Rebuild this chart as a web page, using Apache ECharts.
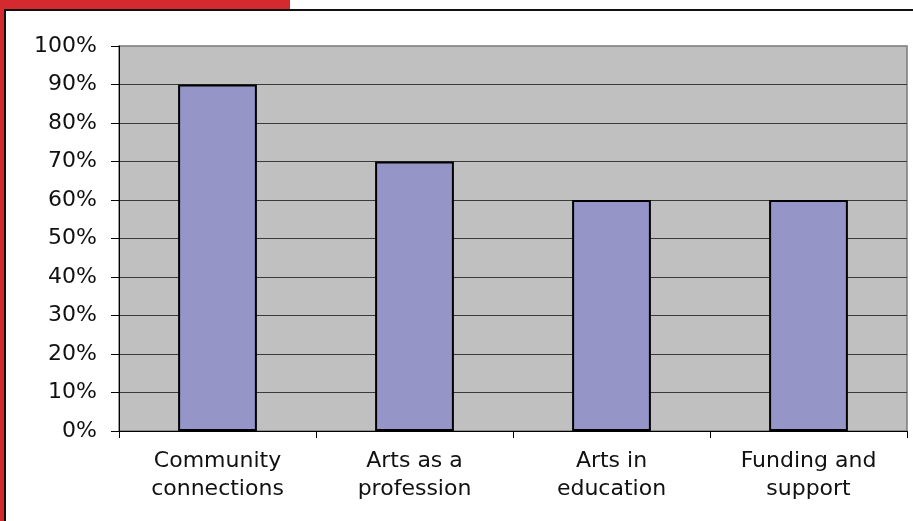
<!DOCTYPE html>
<html>
<head>
<meta charset="utf-8">
<script src="https://cdn.jsdelivr.net/npm/echarts@6/dist/echarts.min.js"></script>
<style>
  html, body { margin: 0; padding: 0; background: #ffffff; }
  #chart { width: 913px; height: 521px; }
</style>
</head>
<body>
<div id="chart"></div>
<script>
// Survey topics and share of respondents (percent)
const categories = ['Community\nconnections', 'Arts as a\nprofession', 'Arts in\neducation', 'Funding and\nsupport'];
const values = [90, 70, 60, 60];
const yTicks = [0, 10, 20, 30, 40, 50, 60, 70, 80, 90, 100];

// gridlines are dark; the top one blends into the lighter plot frame
const gridColors = yTicks.map((t, i) => (i === yTicks.length - 1 ? '#8a8a8a' : '#3a3a3a'));

const chart = echarts.init(document.getElementById('chart'), null, { renderer: 'canvas' });

chart.setOption({
  backgroundColor: '#ffffff',
  animation: false,
  textStyle: { fontFamily: 'DejaVu Sans, sans-serif' },
  graphic: [
    // red banner edge along the top-left and left side
    { type: 'rect', z: 0, shape: { x: 0, y: 0, width: 290, height: 10 }, style: { fill: '#d42a2f' } },
    { type: 'rect', z: 0, shape: { x: 0, y: 0, width: 5, height: 521 }, style: { fill: '#d42a2f' } },
    // dark frame around the chart panel
    { type: 'line', z: 1, shape: { x1: 4, y1: 10, x2: 913, y2: 10 }, style: { stroke: '#111111', lineWidth: 2 } },
    { type: 'line', z: 1, shape: { x1: 5, y1: 9, x2: 5, y2: 521 }, style: { stroke: '#111111', lineWidth: 2 } }
  ],
  grid: {
    left: 119, right: 6, top: 46, bottom: 90,
    show: true,
    backgroundColor: '#c0c0c0',
    borderColor: '#7a7a7a',
    borderWidth: 1.5
  },
  xAxis: {
    type: 'category',
    data: categories,
    boundaryGap: true,
    axisLine: { show: true, lineStyle: { color: '#000000', width: 1 } },
    axisTick: { show: true, length: 7, lineStyle: { color: '#000000' } },
    axisLabel: {
      color: '#111111',
      fontSize: 22,
      lineHeight: 28,
      margin: 16,
      interval: 0
    },
    splitLine: { show: false }
  },
  yAxis: {
    type: 'value',
    min: yTicks[0],
    max: yTicks[yTicks.length - 1],
    interval: 10,
    axisLine: { show: true, lineStyle: { color: '#000000', width: 1 } },
    axisTick: { show: true, length: 8, lineStyle: { color: '#000000' } },
    axisLabel: {
      color: '#111111',
      fontSize: 22,
      margin: 22,
      formatter: v => v + '%'
    },
    splitLine: { show: true, lineStyle: { color: gridColors, width: 1 } }
  },
  series: [{
    type: 'bar',
    data: values,
    barWidth: '40%',
    itemStyle: {
      color: '#9595c8',
      borderColor: '#000000',
      borderWidth: 2
    }
  }]
});
</script>
</body>
</html>
